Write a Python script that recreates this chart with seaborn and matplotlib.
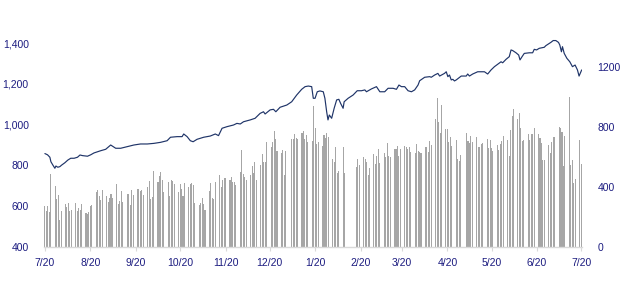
import numpy as np
import pandas as pd
import matplotlib
matplotlib.use("Agg")
import matplotlib.pyplot as plt
import seaborn as sns

# ---------------- data ----------------
start_date = "2020-07-20"
end_date = "2021-07-20"
market_holidays = ["2021-01-01", "2021-02-10", "2021-02-11", "2021-02-12",
                   "2021-02-15", "2021-02-16", "2021-04-30"]

# daily volume (right axis), one value per trading day
volume = [
    273, 240, 273, 233, 487,
    407, 320, 347, 180, 240,
    287, 267, 293, 240, 247,
    293, 240, 260, 247, 287,
    227, 220, 233, 273, 280,
    367, 380, 340, 313, 380,
    340, 299, 330, 354, 326,
    422, 286, 310, 375, 302,
    354, 354, 282, 381, 347,
    387, 387, 373, 380, 347,
    400, 440, 320, 333, 507,
    433, 473, 500, 447, 367,
    433, 340, 447, 440, 420,
    367, 420, 387, 340, 427,
    400, 420, 427, 413, 293,
    280, 293, 327, 287, 247,
    376, 426, 330, 318, 432,
    482, 400, 450, 463, 461,
    450, 470, 435, 433, 414,
    500, 645, 490, 470, 450,
    480, 540, 495, 567, 447,
    550, 620, 570, 570, 700,
    669, 702, 775, 718, 642,
    630, 650, 480, 640,
    718, 722, 751, 729, 718,
    760, 775, 720, 746, 700,
    706, 940, 791, 686, 700,
    673, 746, 724, 757, 735,
    586, 569, 669, 495, 506,
    669, 491,
    535, 586, 546,
    597, 586, 569, 480, 524,
    620, 553, 606, 651, 557,
    629, 597, 691, 609, 597,
    651, 651, 673, 606, 651,
    673, 664, 653, 664, 635,
    629, 686, 642, 635, 629,
    669, 669, 635, 706, 680,
    853, 993, 835, 760, 946,
    785, 785, 700, 736, 674,
    714, 585, 576, 614,
    763, 707, 696, 740, 700,
    732, 669, 669, 685, 696,
    720, 662, 713, 662, 640,
    680, 646, 686, 706, 740,
    713, 606, 780, 873, 920,
    851, 895, 791, 706, 713,
    753, 713, 753, 753, 791,
    753, 724, 695, 580, 580,
    680, 624, 700, 735, 732,
    803, 791, 769, 540, 740,
    1003, 547, 580, 429, 451,
    714, 554,
]

# index level (left axis): days after start date and value
line_day = [0, 1.8, 3.4, 4.1, 5.4, 6.8, 7.5, 8.8, 10.2, 11.5, 13.6, 15.6, 17.6, 19.9,
            22.2, 23.9, 25.6, 29, 31.2, 33.4, 35.8, 38, 41.4, 44.8, 48.2, 51.6, 56.1,
            60.6, 65.1, 69.7, 74.2, 78.7, 83.2, 85.5, 90, 93.4, 94.5, 96.8, 99, 100.9,
            103.6, 108.1, 112.6, 116, 118.2, 120.6, 124, 128.4, 130.7, 133, 135.2,
            139.8, 143.1, 146.5, 148.8, 149.9, 153.3, 155.6, 157.2, 160.1, 164.7, 168,
            171.4, 174.8, 177.1, 179.3, 181.6, 182.7, 183.9, 185.4, 187.2, 189.5,
            190.6, 191.8, 192.7, 193.6, 195.2, 196.9, 198.6, 200.1, 201.3, 203,
            203.7, 206.4, 209.8, 212.6, 215.5, 217.8, 218.9, 222.3, 225.7, 228,
            231.3, 233.6, 237, 239.3, 241, 242.7, 244.9, 247.2, 249.5, 251.7, 254,
            255.1, 258.5, 261.9, 263, 265.3, 267.5, 268.7, 272, 273.2, 274.3, 275.4,
            276.6, 277.7, 278.8, 280, 283.4, 286.8, 287.8, 289, 291.2, 294.6, 299.2,
            301.4, 303.7, 306, 308.2, 309.4, 310.5, 311.6, 313.9, 316.1, 317.3,
            318.4, 320.7, 322.5, 323.4, 324.8, 326.3, 329.7, 332, 333.1, 334.7,
            336.5, 339.9, 341, 344.4, 346, 347.8, 349.6, 350.5, 351.6, 352.3, 353.5,
            355.3, 357.3, 359.1, 360.9, 362.5, 363.6, 365.4]
line_value = [858, 852, 840, 818, 802, 786, 797, 791, 794, 802, 813, 826, 835, 835,
              840, 851, 848, 845, 852, 861, 867, 872, 879, 900, 884, 884, 892,
              900, 905, 905, 908, 913, 921, 938, 941, 941, 954, 941, 921, 916,
              928, 938, 944, 954, 946, 982, 990, 998, 1006, 1003, 1014,
              1023, 1031, 1055, 1063, 1052, 1072, 1075, 1063, 1085, 1096, 1112,
              1145, 1173, 1186, 1189, 1186, 1129, 1129, 1161, 1165, 1161,
              1129, 1063, 1023, 1047, 1031, 1080, 1121, 1124, 1104, 1080,
              1112, 1129, 1145, 1166, 1166, 1170, 1161, 1175, 1186, 1161,
              1161, 1178, 1178, 1173, 1194, 1186, 1186, 1166, 1161, 1170, 1194,
              1215, 1232, 1235, 1232, 1243, 1251, 1238, 1251, 1259, 1235, 1243,
              1219, 1222, 1214, 1219, 1238, 1238, 1248, 1238, 1248, 1259, 1259,
              1248, 1268, 1284, 1296, 1303, 1308, 1303, 1320, 1333, 1366,
              1363, 1352, 1341, 1317, 1333, 1349, 1352, 1352, 1369, 1366,
              1374, 1379, 1387, 1403, 1412, 1412, 1403, 1390, 1357, 1382, 1349,
              1325, 1308, 1284, 1292, 1268, 1238, 1268]

left_ticks = [400, 600, 800, 1000, 1200, 1400]
right_ticks = [0, 400, 800, 1200]
n_months = 12

# ---------------- build ----------------
trade_days = pd.bdate_range(start_date, end_date)
trade_days = trade_days[~trade_days.isin(pd.to_datetime(market_holidays))]
n = min(len(trade_days), len(volume))
bars = pd.DataFrame({"date": trade_days[:n], "volume": volume[:n]})
line = pd.DataFrame({"date": pd.Timestamp(start_date) + pd.to_timedelta(line_day, unit="D"),
                     "value": line_value})
month_ticks = [pd.Timestamp(start_date) + pd.DateOffset(months=i) for i in range(n_months + 1)]

sns.set_theme(style="white")
plt.rcParams["font.family"] = ["Liberation Sans", "DejaVu Sans"]

label_color = "#1C1C80"
fig = plt.figure(figsize=(6.22, 2.91), dpi=100)
# plot area: x 44..582 px, y 37..247 px (from top)
ax = fig.add_axes([44 / 622, 44 / 291, 538 / 622, 210 / 291])
ax2 = ax.twinx()

ax2.bar(bars["date"], bars["volume"], width=0.72, color="#A6A6A6", linewidth=0)
ax.set_zorder(ax2.get_zorder() + 1)
ax.patch.set_visible(False)
sns.lineplot(data=line, x="date", y="value", ax=ax, color="#1F3468", linewidth=0.85)

ax.set_ylim(400, 400 + 1000 * 210 / 204)
ax2.set_ylim(0, 1400)
ax.set_xlim(pd.Timestamp(start_date) - pd.Timedelta(days=0.6),
            pd.Timestamp(end_date) + pd.Timedelta(days=0.6))

ax.set_yticks(left_ticks)
ax.set_yticklabels([f"{v:,}" for v in left_ticks])
ax2.set_yticks(right_ticks)
ax2.set_yticklabels([str(v) for v in right_ticks])
ax.set_xticks(month_ticks)
ax.set_xticklabels([f"{d.month}/{d.day}" for d in month_ticks])

ax.set_xlabel("")
ax.set_ylabel("")
ax2.set_ylabel("")
for a in (ax, ax2):
    for s in a.spines.values():
        s.set_visible(False)
ax.spines["bottom"].set_visible(True)
ax.spines["bottom"].set_color("#D9D9D9")
ax.spines["bottom"].set_linewidth(1.0)

ax.tick_params(axis="x", bottom=True, direction="out", length=3, width=0.8,
               color="#D9D9D9", pad=5, labelsize=7.5, labelcolor=label_color)
ax.tick_params(axis="y", left=False, length=0, pad=11, labelsize=7.5, labelcolor=label_color)
ax2.tick_params(axis="y", right=False, length=0, pad=11, labelsize=7.5, labelcolor=label_color)
ax.grid(False)
ax2.grid(False)

fig.savefig("out.png", dpi=100)
